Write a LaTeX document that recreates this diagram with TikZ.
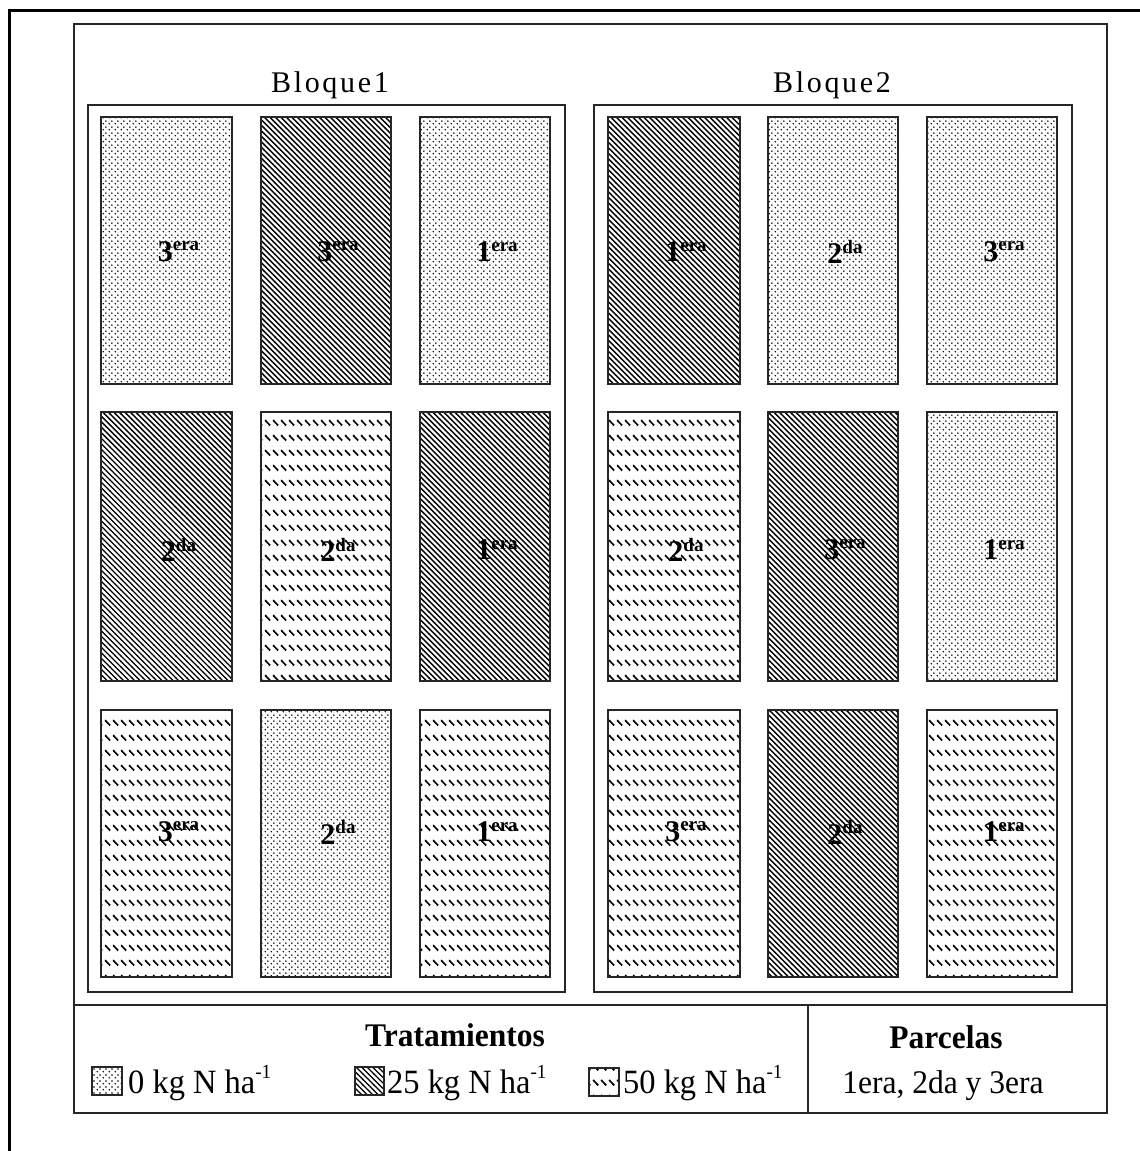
\documentclass[tikz,border=0pt]{standalone}
\usepackage{fontspec}
\setmainfont{Liberation Serif}
\newfontfamily\legfont{Liberation Serif}[FakeStretch=0.955]
\newfontfamily\bloqfont{Liberation Serif}[LetterSpace=9]
\usetikzlibrary{patterns}

\pgfdeclarepatternformonly{mydots}{\pgfqpoint{0pt}{0pt}}{\pgfqpoint{6pt}{6pt}}{\pgfqpoint{6pt}{6pt}}{%
  \pgfpathcircle{\pgfqpoint{1.5pt}{1.5pt}}{0.95pt}%
  \pgfpathcircle{\pgfqpoint{4.5pt}{4.5pt}}{0.95pt}%
  \pgfusepath{fill}}
\pgfdeclarepatternformonly{mylines}{\pgfqpoint{-1pt}{-1pt}}{\pgfqpoint{6.5pt}{6.5pt}}{\pgfqpoint{5.5pt}{5.5pt}}{%
  \pgfsetlinewidth{1.4pt}%
  \pgfpathmoveto{\pgfqpoint{-0.2pt}{5.7pt}}%
  \pgfpathlineto{\pgfqpoint{5.7pt}{-0.2pt}}%
  \pgfusepath{stroke}}
\pgfdeclarepatternformonly{mydashes}{\pgfqpoint{0pt}{0pt}}{\pgfqpoint{8pt}{15pt}}{\pgfqpoint{8pt}{15pt}}{%
  \pgfsetlinewidth{1.8pt}%
  \pgfpathmoveto{\pgfqpoint{1.2pt}{11.5pt}}%
  \pgfpathlineto{\pgfqpoint{6.8pt}{5.9pt}}%
  \pgfusepath{stroke}}

\newcommand\supr[1]{\raisebox{0.36em}{\fontsize{19}{19}\selectfont\bfseries #1}}
\newcommand\supl[1]{\raisebox{0.42em}{\fontsize{20}{20}\selectfont #1}}

\tikzset{
  frameline/.style={line width=2pt, draw=black!85},
  plotline/.style={line width=2pt, draw=black!85},
  plotlab/.style={inner sep=0pt, font=\fontsize{30}{30}\selectfont\bfseries},
  bloqlab/.style={inner sep=0pt, font=\bloqfont\fontsize{30}{30}\selectfont},
  headlab/.style={inner sep=0pt, font=\legfont\fontsize{33}{33}\selectfont\bfseries},
  itemlab/.style={inner sep=0pt, anchor=base west, font=\legfont\fontsize{34}{34}\selectfont},
  swatch/.style={line width=1.6pt, draw=black!85}
}

\newcommand\parcela[8]{%
  \draw[plotline, pattern=#5] (#1,#2) rectangle (#3,#4);
  \node[plotlab] (#6) at ({(#1+#3)/2+12},#7) {#8};
}

\begin{document}
\begin{tikzpicture}[x=1pt,y=-1pt]
\useasboundingbox (0,0) rectangle (1140,1151);
% outer cropped frame
\draw[line width=3pt] (1140,10) -- (9,10) -- (9,1151);
% main box
\draw[frameline] (74,24) rectangle (1107,1113);
\draw[frameline] (74,1005) -- (1107,1005);
\draw[frameline] (808,1005) -- (808,1113);
% blocks
\draw[frameline] (88,105) rectangle (565,992);
\draw[frameline] (594,105) rectangle (1072,992);
\node[bloqlab] (bq1) at (330,85) {Bloque1};
\node[bloqlab] (bq2) at (832,85) {Bloque2};

% Block 1
\parcela{101}{117}{232}{384}{mydots}{a11}{252}{3\supr{era}}
\parcela{261}{117}{391}{384}{mylines}{a12}{252}{3\supr{era}}
\parcela{420}{117}{550}{384}{mydots}{a13}{252}{1\supr{era}}
\parcela{101}{412}{232}{681}{mylines}{a21}{550}{2\supr{da}}
\parcela{261}{412}{391}{681}{mydashes}{a22}{550}{2\supr{da}}
\parcela{420}{412}{550}{681}{mylines}{a23}{550}{1\supr{era}}
\parcela{101}{710}{232}{977}{mydashes}{a31}{832}{3\supr{era}}
\parcela{261}{710}{391}{977}{mydots}{a32}{832}{2\supr{da}}
\parcela{420}{710}{550}{977}{mydashes}{a33}{832}{1\supr{era}}
% Block 2
\parcela{608}{117}{740}{384}{mylines}{b11}{252}{1\supr{era}}
\parcela{768}{117}{898}{384}{mydots}{b12}{252}{2\supr{da}}
\parcela{927}{117}{1057}{384}{mydots}{b13}{252}{3\supr{era}}
\parcela{608}{412}{740}{681}{mydashes}{b21}{550}{2\supr{da}}
\parcela{768}{412}{898}{681}{mylines}{b22}{550}{3\supr{era}}
\parcela{927}{412}{1057}{681}{mydots}{b23}{550}{1\supr{era}}
\parcela{608}{710}{740}{977}{mydashes}{b31}{832}{3\supr{era}}
\parcela{768}{710}{898}{977}{mylines}{b32}{832}{2\supr{da}}
\parcela{927}{710}{1057}{977}{mydashes}{b33}{832}{1\supr{era}}

% legend
\node[headlab] (trat) at (455,1035) {Tratamientos};
\node[headlab] (parc) at (946,1037) {Parcelas};
\draw[swatch, pattern=mydots] (92,1067) rectangle (122,1095);
\node[itemlab] (t0) at (128,1093) {0 kg N ha\supl{-1}};
\draw[swatch, pattern=mylines] (355,1067) rectangle (384,1095);
\node[itemlab] (t25) at (387,1093) {25 kg N ha\supl{-1}};
\draw[swatch, pattern=mydashes] (589,1068) rectangle (619,1096);
\node[itemlab] (t50) at (623,1093) {50 kg N ha\supl{-1}};
\node[inner sep=0pt, anchor=base, font=\legfont\fontsize{33}{33}\selectfont] (pl) at (943,1093) {1era, 2da y 3era};
\end{tikzpicture}
\end{document}
